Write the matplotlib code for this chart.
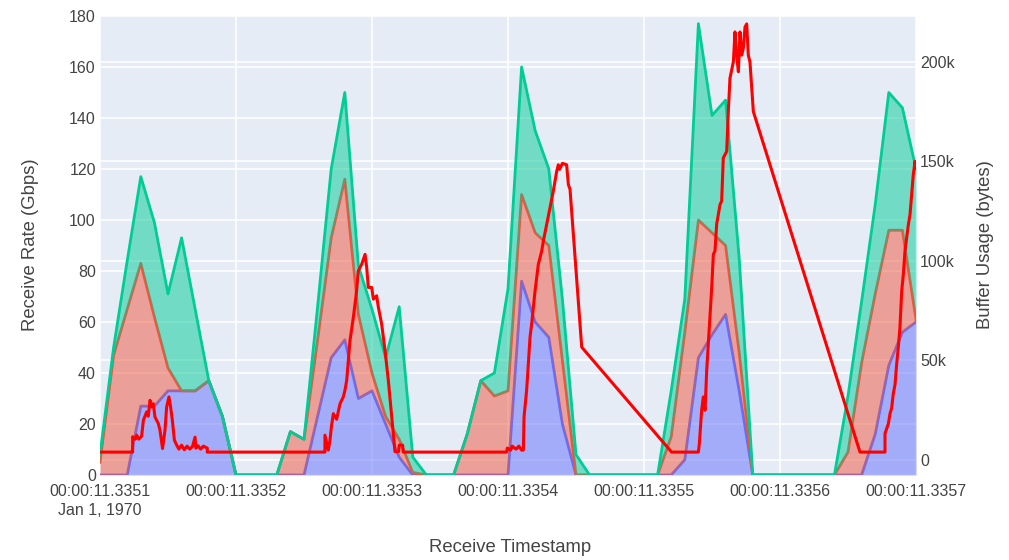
import matplotlib
matplotlib.use('Agg')
import matplotlib.pyplot as plt
import numpy as np

plt.rcParams['font.family'] = ['Liberation Sans', 'DejaVu Sans']

# ---- data ----
time_us = [0, 10, 20, 30, 40, 50, 60, 70, 80, 90,
           100, 110, 120, 130, 140, 150, 160, 170, 180, 190,
           200, 210, 220, 230, 240, 250, 260, 270, 280, 290,
           300, 310, 320, 330, 340, 350, 360, 370, 380, 390,
           400, 410, 420, 430, 440, 450, 460, 470, 480, 490,
           500, 510, 520, 530, 540, 550, 560, 570, 580, 590, 600]

blue_gbps = [0, 0, 0, 27, 27, 33, 33, 33, 37, 23,
             0, 0, 0, 0, 0, 0, 23, 46, 53, 30,
             33, 20, 7, 0, 0, 0, 0, 0, 0, 0,
             0, 76, 60, 54, 20, 0, 0, 0, 0, 0,
             0, 0, 0, 6, 46, 55, 63, 33, 0, 0,
             0, 0, 0, 0, 0, 0, 0, 16, 43, 56, 60]

red_gbps = [5, 47, 65, 56, 35, 9, 0, 0, 0, 0,
            0, 0, 0, 0, 17, 14, 30, 47, 63, 33,
            7, 3, 7, 1, 0, 0, 0, 16, 37, 31,
            33, 34, 35, 36, 25, 0, 0, 0, 0, 0,
            0, 0, 15, 50, 54, 40, 27, 15, 0, 0,
            0, 0, 0, 0, 0, 9, 44, 55, 53, 40, 1]

green_gbps = [3, 3, 19, 34, 37, 29, 60, 32, 0, 0,
              0, 0, 0, 0, 0, 0, 13, 27, 34, 19,
              25, 23, 52, 6, 0, 0, 0, 0, 0, 9,
              40, 50, 40, 30, 24, 8, 0, 0, 0, 0,
              0, 0, 18, 13, 77, 46, 57, 37, 0, 0,
              0, 0, 0, 0, 0, 22, 24, 35, 54, 48, 59]

buffer_us = [0, 24.0, 24.0, 26, 27, 28.5, 30.6, 31.9, 34.3, 35.5, 36.8, 38.0, 39.2, 40.4,
             42.9, 44.1, 46.0, 47.8, 49.0, 50.7, 51.9, 53.2, 54.7, 56.4, 58, 60, 62, 64,
             66, 68, 69.9, 70.5, 72, 74, 76, 78.9, 78.9,
             165.4, 165.4, 167.9, 169.1, 170.3, 171.6, 174.0, 176.5, 178.9, 180.1, 181.4,
             182.6, 183.8, 186.3, 188.7, 189.9, 192.4, 194.9, 196.1, 197.3, 199.8, 201.0,
             203.4, 204.7, 207.1, 209.6, 212.0, 214.5, 216.9, 219.5, 220.0, 222.5, 223.0,
             299.0, 299.5, 302, 303, 306, 308, 310, 311.3, 311.8, 313.7, 316.2, 317.4,
             319.9, 322.3, 324.8, 326.0, 328.4, 330.9, 333.3, 335.8, 337.0, 338, 340,
             343.1, 344.4, 345.6, 354.2, 420.3,
             440.0, 440.7, 442.4, 443.6, 444.9, 446.1, 447.3, 449.8, 451.0, 452.2, 453.4,
             455.9, 457.1, 458.3, 460.8, 462.0, 463.2, 465.7, 466.9, 468.1, 469.4, 470.6,
             471.8, 473.0, 474.3, 475.5, 476.7, 477.9, 480.4, 558.8,
             577.2, 577.2, 579.7, 580.9, 582.1, 583.3, 584.6, 585.8, 587.0, 588.2, 589.5,
             590.7, 591.9, 594.4, 595.6, 596.8, 598.0, 599.3, 600]

buffer_kbytes = [4, 4, 11.7, 10.5, 12.5, 10.5, 12, 20, 24.2, 22, 30, 26.7, 28.3, 21.7,
                 18.3, 15, 5.8, 15, 26.7, 31.7, 26.7, 20, 10, 7.5, 5.5, 7.5, 5.2, 7,
                 5.5, 6.8, 11.5, 6, 7.2, 5.5, 7, 6, 4,
                 4, 12.5, 5, 10, 17.5, 23.3, 20.5, 28.3, 31.7, 35, 40,
                 50, 60, 71.7, 85, 95, 98.3, 103.3, 96.7, 86.7, 86.7, 80.8,
                 82.5, 76.7, 68.3, 55, 40, 21.7, 4.2, 4.2, 7.5, 7.5, 4,
                 4, 6, 5, 7, 5.5, 7, 5, 5, 21.7, 35, 61.7, 68.3,
                 85, 98.3, 105, 110, 118.3, 126.7, 135, 145, 148.3, 146, 149,
                 148.3, 138.3, 136, 56.7, 4,
                 4, 8.3, 25, 31.7, 25, 45, 58.3, 86.7, 103.3, 105, 118.3,
                 128.3, 130, 151.7, 155, 175, 191.7, 200, 215, 203.3, 195, 215,
                 203.3, 206.7, 217.5, 219, 203.3, 200, 175, 4,
                 4, 13.3, 18.3, 23.3, 26, 33.3, 38, 48.3, 56.7, 66.7, 85,
                 93.3, 105, 118.3, 123.3, 133.3, 143.3, 150, 146.7]

x_ticks_us = [0, 100, 200, 300, 400, 500, 600]
x_tick_labels = ['00:00:11.3351\nJan 1, 1970', '00:00:11.3352', '00:00:11.3353',
                 '00:00:11.3354', '00:00:11.3355', '00:00:11.3356', '00:00:11.3357']
left_ticks = [0, 20, 40, 60, 80, 100, 120, 140, 160, 180]
right_ticks = [0, 50000, 100000, 150000, 200000]
right_tick_labels = ['0', '50k', '100k', '150k', '200k']

# ---- style ----
W, H = 1009, 560
BG = '#E5ECF6'
TXT = '#444444'
C_BLUE = '#636EFA'
C_RED = '#EF553B'
C_GREEN = '#00CC96'
C_BUF = '#FF0000'
LEFT_LIM = (0, 180)
RIGHT_LIM = (-7500, 223000)

fig = plt.figure(figsize=(W / 100, H / 100), dpi=100)
ax = fig.add_axes([100 / W, 85 / H, 816 / W, 459 / H])
ax.set_facecolor(BG)
for s in ax.spines.values():
    s.set_visible(False)

t = np.array(time_us, dtype=float)
b = np.array(blue_gbps, dtype=float)
r = b + np.array(red_gbps, dtype=float)
g = r + np.array(green_gbps, dtype=float)

ax.fill_between(t, 0, b, color=C_BLUE, alpha=0.5, lw=0, zorder=2)
ax.plot(t, b, color=C_BLUE, lw=2, zorder=3)
ax.fill_between(t, b, r, color=C_RED, alpha=0.5, lw=0, zorder=4)
ax.plot(t, r, color=C_RED, lw=2, zorder=5)
ax.fill_between(t, r, g, color=C_GREEN, alpha=0.5, lw=0, zorder=6)
ax.plot(t, g, color=C_GREEN, lw=2, zorder=7)

ax.set_xlim(0, 600)
ax.set_ylim(*LEFT_LIM)
ax.set_xticks(x_ticks_us)
ax.set_xticklabels(x_tick_labels, linespacing=1.3)
ax.set_yticks(left_ticks)
ax.set_axisbelow(True)
ax.grid(color='white', lw=1.1, zorder=0.5)
# grid lines of the secondary axis, drawn beneath the areas
for v in right_ticks:
    yl = LEFT_LIM[0] + (v - RIGHT_LIM[0]) / (RIGHT_LIM[1] - RIGHT_LIM[0]) * (LEFT_LIM[1] - LEFT_LIM[0])
    ax.axhline(yl, color='white', lw=1.1, zorder=0.6)
ax.tick_params(axis='both', length=0, labelsize=11.5, labelcolor=TXT)
ax.tick_params(axis='x', pad=6.5)
ax.tick_params(axis='y', pad=3)

ax2 = ax.twinx()
for s in ax2.spines.values():
    s.set_visible(False)
ax2.plot(buffer_us, np.array(buffer_kbytes) * 1000, color=C_BUF, lw=2.2, zorder=8)
ax2.set_ylim(*RIGHT_LIM)
ax2.set_xlim(0, 600)
ax2.set_yticks(right_ticks)
ax2.set_yticklabels(right_tick_labels)
ax2.tick_params(axis='y', length=0, labelsize=11.5, labelcolor=TXT, pad=3)

fig.text(31 / W, 1 - 245 / H, 'Receive Rate (Gbps)', rotation=90, ha='center', va='center',
         fontsize=13.3, color=TXT)
fig.text(986 / W, 1 - 245 / H, 'Buffer Usage (bytes)', rotation=90, ha='center', va='center',
         fontsize=13.3, color=TXT)
fig.text(510 / W, 1 - 548 / H, 'Receive Timestamp', ha='center', va='center',
         fontsize=13.3, color=TXT)

fig.savefig('out.png', dpi=100, facecolor='white')
